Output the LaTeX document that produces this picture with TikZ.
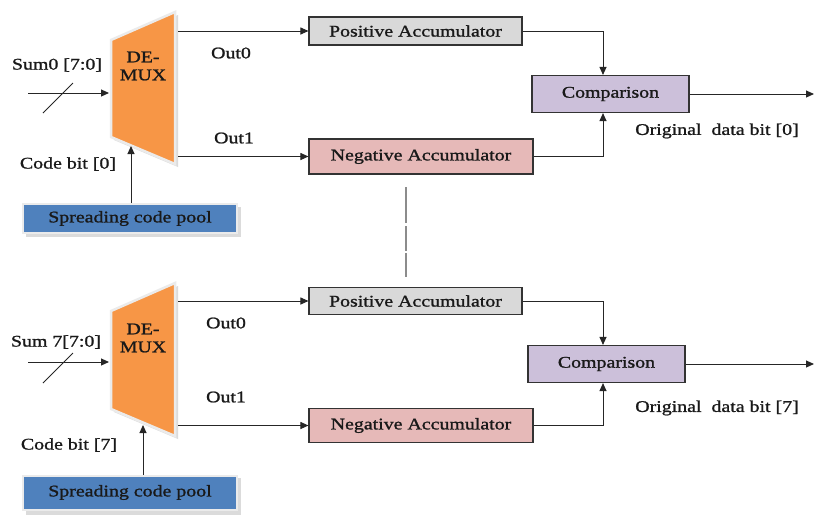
\documentclass[tikz,border=0pt]{standalone}
\usepackage{fontspec}
\setmainfont{Liberation Serif}[FakeStretch=1.22,FakeBold=1.2]
\usetikzlibrary{arrows.meta}
\definecolor{demuxc}{HTML}{F79646}
\definecolor{poolc}{HTML}{4F81BD}
\definecolor{posc}{HTML}{D9D9D9}
\definecolor{negc}{HTML}{E6B9B8}
\definecolor{cmpc}{HTML}{CCC0DA}
\begin{document}
\begin{tikzpicture}[x=1pt,y=-1pt,
  font=\fontsize{16.3}{18}\selectfont,
  arr/.style={draw=black!85, line width=1pt, -{Triangle[length=8pt,width=7pt]}},
  plain/.style={draw=black!85, line width=1pt},
  box/.style={draw=black!80, line width=1.1pt, inner sep=0pt, text=black!90},
  poolbox/.style={draw=black!8, line width=2pt, fill=poolc, inner sep=0pt, text=black!90, minimum width=214pt},
  lbl/.style={inner sep=0pt, text=black!90},
  demuxshape/.style={fill=demuxc, draw=black!8, line width=2.5pt, line join=miter},
  shade/.style={fill=black!14},
  sep/.style={draw=black!45, line width=1.6pt}
]
\useasboundingbox (0,0) rectangle (814,515);

% ---------- upper channel ----------
\coordinate (d0a) at (111,40);
\coordinate (d0b) at (175,12);
\coordinate (d0c) at (175,164);
\coordinate (d0d) at (111,137);
\path[shade] ([shift={(3,3)}]d0a) -- ([shift={(3,3)}]d0b) -- ([shift={(3,3)}]d0c) -- ([shift={(3,3)}]d0d) -- cycle;
\path[demuxshape] (d0a) -- (d0b) -- (d0c) -- (d0d) -- cycle;
\node[lbl, align=center] (dm0) at (143,66) {DE-\\MUX};

\node[box, fill=posc, minimum width=213pt, minimum height=28pt] (pa0) at (415.5,31) {Positive Accumulator};
\node[box, fill=negc, minimum width=224pt, minimum height=35pt] (na0) at (421,156.5) {Negative Accumulator};
\node[box, fill=cmpc, minimum width=157pt, minimum height=37pt] (cp0) at (610.5,94) {Comparison};
\path[shade] (26,207) rectangle (241,237);
\node[poolbox, minimum height=29pt] (pool0) at (130,218.5) {Spreading code pool};

\coordinate (o00) at (178,31);
\coordinate (o10) at (178,156.5);
\coordinate (in0) at (28,93);
\coordinate (ie0) at (109,93);
\coordinate (sa0) at (43,113);
\coordinate (sb0) at (73,83);
\coordinate (ct0) at (131,146);
\coordinate (out0) at (814,94);

\draw[arr] (o00) -- (pa0.west);
\draw[arr] (o10) -- (na0.west);
\draw[arr] (in0) -- (ie0);
\draw[plain] (sa0) -- (sb0);
\draw[arr] (pool0.north -| ct0) -- (ct0);
\draw[arr] (pa0.east) -| ([xshift=-7.5pt]cp0.north);
\draw[arr] (na0.east) -| ([xshift=-7.5pt]cp0.south);
\draw[arr] (cp0.east) -- (out0);

\node[lbl] (s0) at (57,65) {Sum0 [7:0]};
\node[lbl] (cb0) at (68,164) {Code bit [0]};
\node[lbl] (l00) at (231,53) {Out0};
\node[lbl] (l10) at (234,138) {Out1};
\node[lbl] (od0) at (717,131) {Original\ \ data bit [0]};

% ---------- separator ----------
\coordinate (sp1) at (406,187);
\coordinate (sp2) at (406,223);
\coordinate (sp3) at (406,226);
\coordinate (sp4) at (406,251);
\coordinate (sp5) at (406,253);
\coordinate (sp6) at (406,277);
\draw[sep] (sp1) -- (sp2);
\draw[sep] (sp3) -- (sp4);
\draw[sep] (sp5) -- (sp6);

% ---------- lower channel ----------
\coordinate (d7a) at (111,311);
\coordinate (d7b) at (175,283);
\coordinate (d7c) at (175,436);
\coordinate (d7d) at (111,409);
\path[shade] ([shift={(3,3)}]d7a) -- ([shift={(3,3)}]d7b) -- ([shift={(3,3)}]d7c) -- ([shift={(3,3)}]d7d) -- cycle;
\path[demuxshape] (d7a) -- (d7b) -- (d7c) -- (d7d) -- cycle;
\node[lbl, align=center] (dm7) at (143,338) {DE-\\MUX};

\node[box, fill=posc, minimum width=213pt, minimum height=27pt] (pa7) at (415.5,301) {Positive Accumulator};
\node[box, fill=negc, minimum width=224pt, minimum height=34pt] (na7) at (421,425.5) {Negative Accumulator};
\node[box, fill=cmpc, minimum width=157pt, minimum height=37pt] (cp7) at (606.5,364) {Comparison};
\path[shade] (26,478) rectangle (241,515);
\node[poolbox, minimum height=34pt] (pool7) at (130,492.5) {Spreading code pool};

\coordinate (o07) at (178,301);
\coordinate (o17) at (178,425.5);
\coordinate (in7) at (28,362);
\coordinate (ie7) at (109,362);
\coordinate (sa7) at (43,383);
\coordinate (sb7) at (73,353);
\coordinate (ct7) at (143,425);
\coordinate (out7) at (814,364);

\draw[arr] (o07) -- (pa7.west);
\draw[arr] (o17) -- (na7.west);
\draw[arr] (in7) -- (ie7);
\draw[plain] (sa7) -- (sb7);
\draw[arr] (pool7.north -| ct7) -- (ct7);
\draw[arr] (pa7.east) -| ([xshift=-3.5pt]cp7.north);
\draw[arr] (na7.east) -| ([xshift=-3.5pt]cp7.south);
\draw[arr] (cp7.east) -- (out7);

\node[lbl] (s7) at (56,342) {Sum 7[7:0]};
\node[lbl] (cb7) at (69,445) {Code bit [7]};
\node[lbl] (l07) at (226,323) {Out0};
\node[lbl] (l17) at (226,397) {Out1};
\node[lbl] (od7) at (717,408) {Original\ \ data bit [7]};
\end{tikzpicture}
\end{document}
